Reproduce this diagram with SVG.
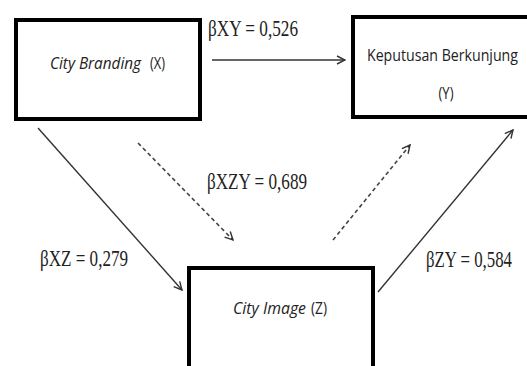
<svg xmlns="http://www.w3.org/2000/svg" width="527" height="366" viewBox="0 0 527 366">
<defs>
<style>
.box{fill:#fff;stroke:#000;stroke-width:4}
.node{font-family:"Open Sans","Liberation Sans",sans-serif;font-size:17px;fill:#222}
.it{font-style:italic}
.lbl{font-family:"Liberation Serif",serif;font-size:23px;fill:#222}
.ln{fill:none;stroke:#333;stroke-width:1.4}
.dash{stroke-dasharray:4 3;stroke:#444;stroke-width:1.6}
</style>
<marker id="ah" viewBox="0 0 10 10" refX="9" refY="5" markerWidth="10" markerHeight="10" markerUnits="userSpaceOnUse" orient="auto">
<path d="M1,1 L9,5 L1,9" fill="none" stroke="#333" stroke-width="1.4"/>
</marker>
</defs>
<rect width="527" height="366" fill="#fff"/>
<g id="connectors">
<line class="ln" x1="212" y1="60" x2="345" y2="60" marker-end="url(#ah)"/>
<line class="ln" x1="38" y1="128" x2="182" y2="290" marker-end="url(#ah)"/>
<line class="ln dash" x1="138" y1="143" x2="233" y2="240" marker-end="url(#ah)"/>
<line class="ln dash" x1="333" y1="240" x2="410" y2="145" marker-end="url(#ah)"/>
<line class="ln" x1="378" y1="292" x2="513" y2="130" marker-end="url(#ah)"/>
<text class="lbl" x="208" y="36" textLength="90" lengthAdjust="spacingAndGlyphs">βXY = 0,526</text>
<text class="lbl" x="207" y="189" textLength="100" lengthAdjust="spacingAndGlyphs">βXZY = 0,689</text>
<text class="lbl" x="40" y="266" textLength="88" lengthAdjust="spacingAndGlyphs">βXZ = 0,279</text>
<text class="lbl" x="426" y="267" textLength="86" lengthAdjust="spacingAndGlyphs">βZY = 0,584</text>
</g>
<g id="nodeX">
<rect class="box" x="16" y="20" width="184" height="99"/>
<text class="node it" x="50" y="69" textLength="91" lengthAdjust="spacingAndGlyphs">City Branding</text>
<text class="node" x="150" y="69" textLength="15" lengthAdjust="spacingAndGlyphs">(X)</text>
</g>
<g id="nodeY">
<rect class="box" x="353" y="17" width="200" height="100"/>
<text class="node" x="367" y="61" textLength="151" lengthAdjust="spacingAndGlyphs">Keputusan Berkunjung</text>
<text class="node" x="446" y="99" text-anchor="middle" textLength="15" lengthAdjust="spacingAndGlyphs">(Y)</text>
</g>
<g id="nodeZ">
<rect class="box" x="189" y="268" width="184" height="120"/>
<text class="node it" x="233" y="314" textLength="73" lengthAdjust="spacingAndGlyphs">City Image</text>
<text class="node" x="311" y="314" textLength="16" lengthAdjust="spacingAndGlyphs">(Z)</text>
</g>
</svg>
